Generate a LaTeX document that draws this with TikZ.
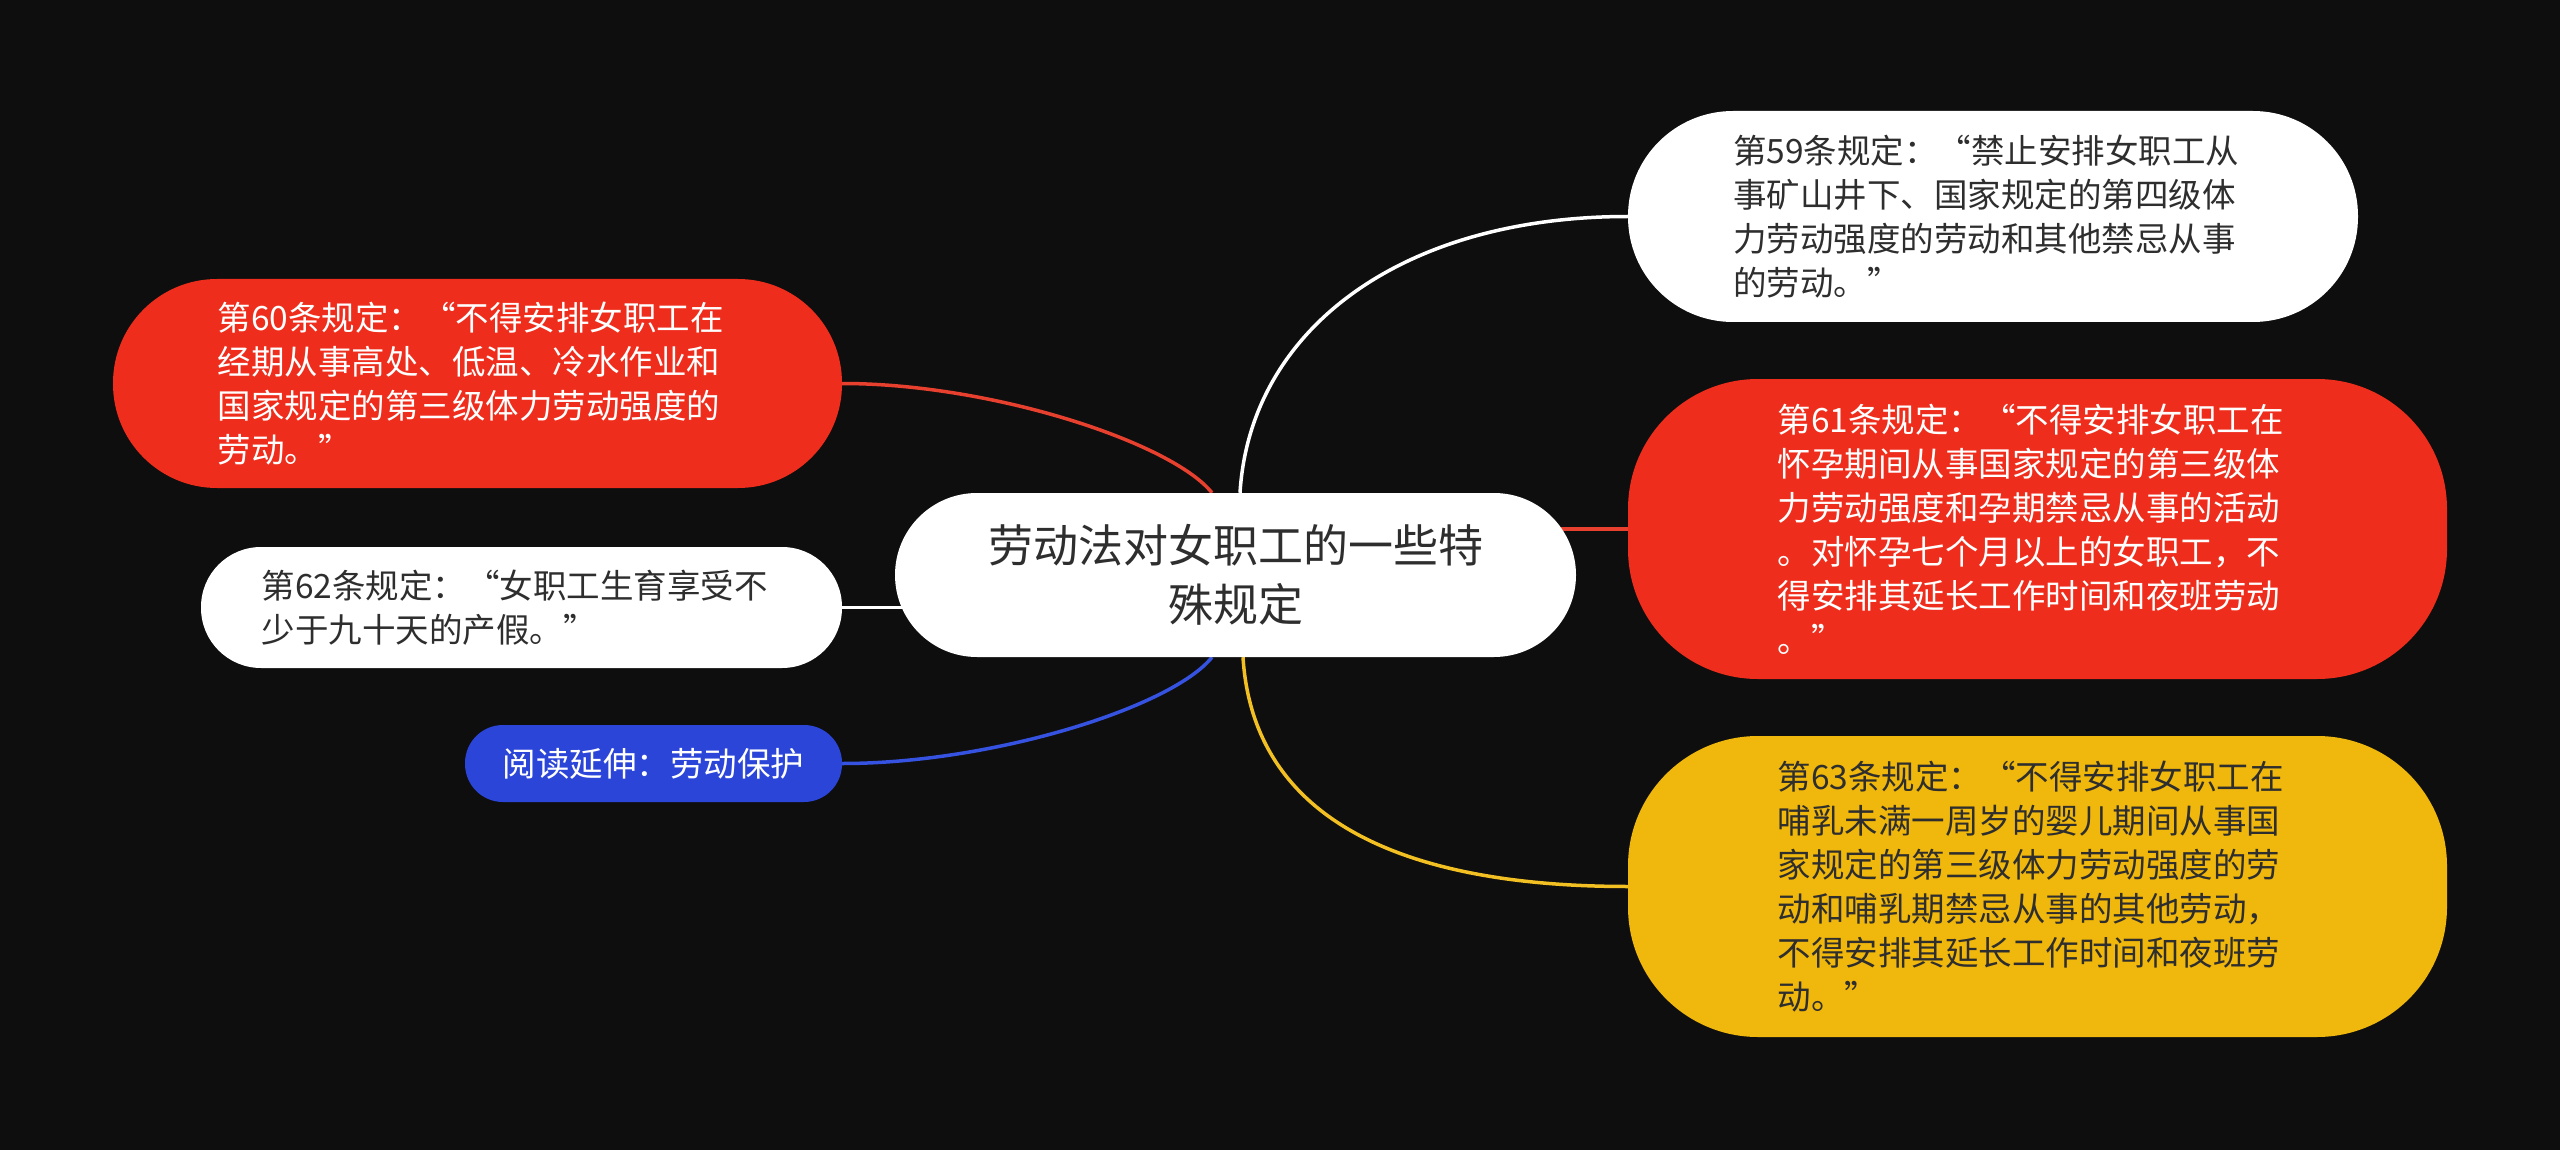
\documentclass[tikz,border=0pt]{standalone}
\usepackage{fontspec}
\newfontfamily\cjk{Noto Sans CJK SC}
\usetikzlibrary{calc}
\pgfdeclarelayer{background}
\pgfsetlayers{background,main}
\definecolor{bgc}{HTML}{0E0E0E}
\definecolor{redf}{HTML}{EF2D1C}
\definecolor{yelf}{HTML}{F0B70C}
\definecolor{bluf}{HTML}{2B45D9}
\definecolor{darktxt}{HTML}{2E2E2E}
\definecolor{redl}{HTML}{E8402F}
\definecolor{yell}{HTML}{F2C022}
\definecolor{blul}{HTML}{3552E0}
\tikzset{
  leaf/.style={draw=none, inner sep=0pt, align=left, text width=520pt,
    font=\cjk\fontsize{33.5}{44}\selectfont},
  conn/.style={line width=3.5pt},
}
\begin{document}
\begin{tikzpicture}[x=1pt,y=-1pt]
\useasboundingbox (0,0) rectangle (2560,1150);
% nodes
\node[fill=white, text=darktxt, inner sep=0pt, align=center, minimum width=681pt, minimum height=164pt,
  rounded corners=82pt, font=\cjk\fontsize{45}{59}\selectfont] (c) at (1235.5,575)
  {劳动法对女职工的一些特\\殊规定};
\node[leaf, fill=white, text=darktxt, minimum width=730pt, minimum height=211pt, rounded corners=105pt] (n59) at (1993,216.5)
  {第59条规定：“禁止安排女职工从\\事矿山井下、国家规定的第四级体\\力劳动强度的劳动和其他禁忌从事\\的劳动。”};
\node[leaf, fill=redf, text=white, minimum width=819pt, minimum height=300pt, rounded corners=130pt] (n61) at (2037.5,529)
  {第61条规定：“不得安排女职工在\\怀孕期间从事国家规定的第三级体\\力劳动强度和孕期禁忌从事的活动\\。对怀孕七个月以上的女职工，不\\得安排其延长工作时间和夜班劳动\\。”};
\node[leaf, fill=yelf, text=darktxt, minimum width=819pt, minimum height=301pt, rounded corners=130pt] (n63) at (2037.5,886.5)
  {第63条规定：“不得安排女职工在\\哺乳未满一周岁的婴儿期间从事国\\家规定的第三级体力劳动强度的劳\\动和哺乳期禁忌从事的其他劳动，\\不得安排其延长工作时间和夜班劳\\动。”};
\node[leaf, fill=redf, text=white, minimum width=729pt, minimum height=209pt, rounded corners=104pt] (n60) at (477.5,383.5)
  {第60条规定：“不得安排女职工在\\经期从事高处、低温、冷水作业和\\国家规定的第三级体力劳动强度的\\劳动。”};
\node[leaf, fill=white, text=darktxt, minimum width=641pt, minimum height=121pt, rounded corners=60pt] (n62) at (521.5,607.5)
  {第62条规定：“女职工生育享受不\\少于九十天的产假。”};
\node[fill=bluf, text=white, inner sep=0pt, minimum width=377pt, minimum height=77pt, rounded corners=38pt,
  font=\cjk\fontsize{33.5}{44}\selectfont] (nb) at (653.5,763.5) {阅读延伸：劳动保护};
% connectors
\begin{pgfonlayer}{background}
\fill[bgc] (0,0) rectangle (2560,1150);
\coordinate (cw) at ([xshift=4.5pt]c.north);
\coordinate (cr) at ([xshift=-23.5pt]c.north);
\coordinate (cy) at ([xshift=7.5pt]c.south);
\coordinate (cb) at ([xshift=-23.5pt]c.south);
\draw[conn, white] (cw) .. controls ($(cw)+(10,-163)$) and ($(n59.west)+(-227,0)$) .. (n59.west);
\draw[conn, yell] (cy) .. controls ($(cy)+(10,160)$) and ($(n63.west)+(-230,0)$) .. (n63.west);
\draw[conn, redl] (cr) .. controls ($(cr)+(-40,-50)$) and ($(n60.east)+(150,0)$) .. (n60.east);
\draw[conn, blul] (cb) .. controls ($(cb)+(-40,50)$) and ($(nb.east)+(150,0)$) .. (nb.east);
\draw[conn, redl] (n61.west) -- (n61.west -| c.center);
\draw[conn, white] (n62.east) -- (n62.east -| c.center);
\end{pgfonlayer}
\end{tikzpicture}
\end{document}
